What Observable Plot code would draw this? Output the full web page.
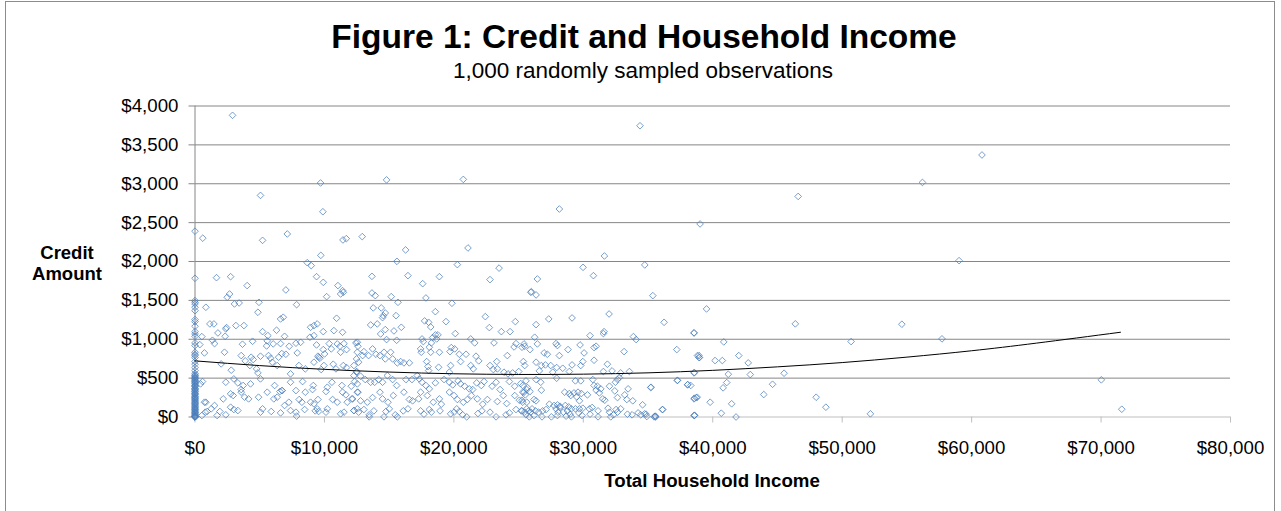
<!DOCTYPE html>
<html><head><meta charset="utf-8">
<script src="https://cdn.jsdelivr.net/npm/d3@7"></script>
<script src="https://cdn.jsdelivr.net/npm/@observablehq/plot@0.6"></script>
<style>
html,body{margin:0;padding:0;background:#fff;overflow:hidden;}
#wrap{position:relative;width:1281px;height:511px;font-family:"Liberation Sans",Arial,sans-serif;color:#000;}
#frame{position:absolute;left:5px;top:1px;width:1270px;height:540px;border:1px solid #8c8c8c;box-sizing:border-box;}
#chart{position:absolute;left:0;top:0;}
.t{position:absolute;white-space:nowrap;transform:translateX(-50%);text-align:center;}
</style></head><body>
<div id="wrap">
  <div id="frame"></div>
  <div id="chart"></div>
  <div class="t" style="left:644px;top:19.5px;font-size:33.5px;line-height:33.5px;font-weight:bold;">Figure 1: Credit and Household Income</div>
  <div class="t" style="left:643px;top:60px;font-size:22.5px;line-height:22.5px;">1,000 randomly sampled observations</div>
  <div class="t" style="left:67px;top:243px;font-size:18.5px;line-height:20.5px;font-weight:bold;">Credit<br>Amount</div>
  <div class="t" style="left:712px;top:472px;font-size:18.7px;line-height:18.7px;font-weight:bold;">Total Household Income</div>
</div>
<script>
// Axis ticks
const xTicks = [0, 10000, 20000, 30000, 40000, 50000, 60000, 70000, 80000];
const yTicks = [0, 500, 1000, 1500, 2000, 2500, 3000, 3500, 4000];

// Observations with zero household income (credit amounts)
const zeroIncomeCredit = [2390, 1784, 1497, 1475, 1454, 1411, 1368, 1253, 1227, 1167, 1098, 1068, 1038, 953, 919, 833, 807, 790, 764, 713, 679, 636, 597, 560, 541, 533, 518, 510, 497, 490, 476, 470, 455, 450, 437, 430, 412, 405, 396, 390, 371, 365, 352, 347, 333, 325, 309, 300, 294, 285, 268, 260, 251, 240, 232, 220, 215, 200, 188, 180, 173, 160, 152, 140, 131, 120, 112, 100, 94, 85, 71, 60, 55, 45, 33, 25, 16, 10, 4, 0, 0, 0];

// [income, credit] pairs, income up to $12,000
const band1 = [[600,2300],[2900,3880],[5060,2850],[5220,2272],[7130,2354],[8670,1985],[8980,1947],[9700,3010],[9720,2079],[9880,2640],[11430,2277],[11690,2294],
[1660,1792],[2750,1805],[4030,1690],[7020,1634],[9390,1805],[9910,1732],[11040,1690],[11400,1625],[11250,1582],[11460,1604],[2490,1540],[2670,1582],[10170,1548],[3050,1454],[3410,1467],[4940,1475],[840,1411],[7850,1445],[4860,1347],[6610,1261],[6820,1283],[10940,1270],[1150,1197],[1460,1197],[2440,1150],[2380,1133],[3160,1176],[3780,1176],[1770,1081],[2330,1038],[5220,1098],[5630,1047],[6300,1116],[6920,1038],[8930,1154],[9190,1176],[9440,1197],[8880,1026],[9190,1047],[9910,1098],[10730,1111],[11400,1090],[530,1034],[1350,987],[1510,944],[370,931],[2280,833],[730,824],[3670,936],[4450,974],[5580,979],[5530,914],[6040,940],[6610,944],[7280,910],[7800,949],[8160,961],[6710,816],[6460,769],[7020,807],[7900,824],[9390,927],[9500,782],[9650,756],[9910,867],[10010,811],[10370,944],[10530,876],[10990,940],[11200,910],[11510,944],[11710,867],[11250,833],[3570,790],[4340,769],[4500,739],[5060,782],[5680,790],[5840,756],[3880,722],[4240,662],[2020,683],[2800,602],[4760,619],[5970,705],[6350,662],[7380,555],[8030,662],[8520,619],[9190,705],[9570,769],[9960,662],[9750,610],[10680,679],[10890,619],[11460,662],[11710,636],[430,426],[580,456],[2380,447],[3000,490],[3310,439],[3720,405],[3570,353],[4290,426],[5060,490],[4860,567],[6150,405],[6710,340],[7380,447],[8310,456],[9080,353],[9140,405],[10220,383],[10580,447],[11350,405],[840,190],[730,190],[2180,233],[2750,298],[2950,276],[3570,319],[3830,255],[4140,233],[4910,255],[5580,319],[6090,233],[6350,255],[6560,328],[6740,340],[7250,190],[7800,340],[8050,225],[8260,190],[8520,319],[8930,190],[9190,169],[9500,225],[10120,328],[10630,225],[10990,190],[11400,319],[11660,285],[11760,190],[530,19],[790,62],[940,71],[1250,105],[1510,148],[1920,71],[2750,126],[3000,96],[3310,83],[5220,105],[5060,62],[5890,71],[6610,53],[6920,148],[7380,83],[7800,62],[8470,96],[7850,11],[9290,79],[9440,105],[9550,71],[10220,105],[10120,62],[11250,41],[11510,62],[2380,28],[1710,19]];

// income $12,000 - $26,000
const band2 = [[12540,961],[12540,833],[12280,662],[12490,585],[12070,396],[12330,456],[12540,426],[12540,319],[12180,233],[12280,83],[12540,105],[12920,2320],
[14800,3050],[20730,3056],[16270,2149],[21090,2174],[15600,2002],[20270,1960],[23490,1915],
[13670,1809],[16450,1818],[18880,1805],[22790,1767],[17590,1715],[13670,1595],[13930,1561],[15160,1548],[15680,1475],[17840,1531],[19850,1463],[25940,1604],[13770,1403],[14390,1403],[14700,1338],[14550,1304],[14490,1278],[15530,1304],[18570,1355],[22430,1291],[13570,1184],[14080,1197],[14700,1124],[14340,1068],[15370,1107],[15940,1154],[17740,1236],[18050,1218],[18210,1158],[19390,1227],[20110,1073],[22740,1150],[23670,1098],[24340,1098],[24750,1227],[18570,1056],[18360,1021],[18260,953],[18770,1056],[18670,1004],[17540,1004],[17640,970],[14800,996],[15580,987],[21300,1004],[21610,953],[12430,953],[12590,910],[13050,841],[12950,790],[12640,705],[12480,747],[13410,790],[13720,876],[13980,807],[14290,790],[14600,833],[14700,747],[15110,833],[15270,747],[15630,696],[15890,713],[16140,696],[16560,696],[17430,876],[17480,833],[18100,897],[18210,833],[18880,833],[19700,841],[19800,893],[20060,876],[20420,807],[20940,807],[21710,782],[21920,722],[23100,953],[23310,713],[24800,944],[24650,901],[25420,940],[25470,910],[24130,790],[25370,713],[25470,662],[17900,713],[18000,649],[18050,597],[18820,640],[19750,662],[19650,576],[20520,713],[21300,662],[21500,619],[22790,662],[23050,610],[23360,619],[23870,576],[24180,555],[24540,567],[25010,585],[12280,533],[12480,576],[12790,525],[13150,482],[13570,447],[13880,447],[14190,482],[14490,447],[14860,533],[15270,482],[15580,405],[16300,482],[16760,482],[17170,533],[17330,490],[17540,447],[18100,362],[17840,405],[18570,439],[19240,482],[19650,447],[19910,413],[20320,465],[20520,426],[20830,396],[21190,362],[21450,353],[21760,439],[22120,405],[22330,456],[22950,396],[23260,447],[23570,353],[24290,456],[24700,396],[25160,430],[25630,353],[25420,319],[12120,233],[12590,319],[12790,208],[13310,190],[13720,250],[14290,319],[14490,233],[14910,190],[15320,276],[16140,319],[16560,225],[16810,208],[17280,233],[17430,319],[17950,276],[18410,190],[18880,233],[19030,165],[19650,319],[20010,276],[20270,225],[20730,190],[21040,225],[21350,276],[21810,233],[22230,165],[22590,225],[23360,199],[23820,276],[24080,173],[24700,276],[25060,216],[25320,190],[12280,83],[12640,62],[13050,96],[13460,28],[13820,79],[14750,71],[15010,105],[15470,28],[15630,2],[16090,79],[16450,105],[17430,79],[17690,36],[18100,96],[18260,62],[18930,79],[19750,41],[20010,62],[20220,105],[20420,71],[20680,28],[20990,2],[21860,45],[22170,79],[22790,62],[23260,2],[24030,28],[24290,53],[24800,96],[25210,79],[25630,105],[25940,62],[13460,2],[14600,2]];

// income $25,000 - $39,000
const band3 = [[34380,3746],[28150,2675],[31630,2071],[29980,1925],[34750,1956],
[30780,1818],[26450,1775],[25990,1612],[26350,1570],[35370,1561],[27330,1261],[29130,1274],[31990,1325],[26350,1188],[36240,1218],[30520,1047],[31600,1098],[31550,1073],[26240,1026],[33870,1034],[34080,996],[38560,1081],[25260,897],[27890,944],[28000,919],[26450,940],[29750,927],[30830,893],[30990,910],[25880,867],[26970,824],[27220,807],[28150,790],[28820,867],[30060,824],[33150,841],[37220,867],[38820,790],[38970,764],[26350,705],[26760,662],[27070,670],[27480,662],[27940,636],[28410,627],[29130,670],[29960,713],[29800,662],[30830,730],[31860,679],[26600,593],[27640,576],[28920,585],[31550,585],[32220,593],[32890,567],[33560,585],[38560,567],[25570,465],[25320,405],[26350,482],[26710,447],[27940,499],[29390,465],[29800,465],[30730,482],[30830,405],[31090,396],[31350,362],[32020,396],[32480,447],[32640,482],[32790,507],[33460,362],[35210,379],[37270,473],[38050,413],[25680,379],[25880,328],[25320,319],[25520,285],[26760,345],[28560,319],[28920,302],[29280,310],[29590,319],[29850,302],[29030,276],[29490,259],[29700,208],[30320,285],[30990,345],[31240,310],[31500,233],[31660,216],[32430,336],[32640,250],[33200,285],[33360,225],[33820,208],[38560,233],[38720,250],[25260,216],[25630,190],[26190,225],[26350,208],[27380,165],[28000,156],[28200,122],[28610,148],[28870,131],[29080,105],[29700,105],[29960,113],[30470,105],[30680,122],[31140,79],[31910,113],[32640,62],[32890,105],[34230,53],[34440,28],[34850,36],[35470,2],[35570,11],[36140,96],[38560,19],[25260,79],[25470,62],[25780,79],[26040,105],[26300,79],[26550,62],[26860,79],[27120,96],[27740,148],[27890,105],[28050,62],[28200,139],[28460,62],[28770,79],[28980,36],[29390,105],[29650,53],[32020,62],[32330,28],[32530,96],[33410,36],[33770,28],[25570,28],[25830,2],[26190,19],[26810,2],[27530,2],[28000,19],[28670,11],[29080,2],[29900,19],[30520,36],[31140,2],[32120,2]];

// income above $34,000
const band4 = [[60800,3370],[56200,3017],[46600,2837],[39020,2483],[59030,2011],[39520,1390],[46380,1198],[54610,1193],[38550,1082],[40850,966],[50690,970],[57710,1005],[38940,790],[38940,765],[40180,726],[40740,726],[42010,790],[42740,696],[38580,572],[41200,550],[42900,546],[45510,563],[41080,443],[40800,375],[44620,421],[70020,478],[38580,242],[38800,254],[39800,190],[41460,170],[43940,289],[47990,254],[48740,126],[71600,100],[40660,49],[41800,0],[38580,19],[38600,23],[52180,41],[38300,405],[34580,157],[34740,41],[34900,6],[35540,10],[35600,0],[36100,96],[35230,383],[37270,469],[38070,418]];

// Polynomial trend line
const trendIncome = [0, 5000, 10000, 15000, 20000, 25000, 30000, 35000, 40000, 45000, 50000, 55000, 60000, 65000, 71500];
const trendCredit = [722, 661, 613, 578, 556, 547, 551, 568, 600, 645, 700, 770, 852, 950, 1090];

const points = [
  ...zeroIncomeCredit.map(c => ({income: 0, credit: c})),
  ...[...band1, ...band2, ...band3, ...band4].map(([i, c]) => ({income: i, credit: c}))
];
const trend = trendIncome.map((x, k) => ({income: x, credit: trendCredit[k]}));

const fmt = d3.format("$,");
const chart = Plot.plot({
  width: 1281,
  height: 511,
  marginLeft: 194.5,
  marginRight: 51,
  marginTop: 105.5,
  marginBottom: 94.5,
  style: {fontFamily: "'Liberation Sans', Arial, sans-serif", fontSize: "18.7px", color: "#000", background: "transparent", overflow: "visible"},
  x: {domain: [0, 80000]},
  y: {domain: [0, 4000]},
  marks: [
    Plot.gridY(yTicks.filter(d => d > 0), {stroke: "#868686", strokeOpacity: 1}),
    Plot.ruleY([0], {stroke: "#bfbfbf"}),
    Plot.ruleX([0], {stroke: "#868686"}),
    Plot.axisY(yTicks, {tickSize: 6, tickPadding: 10.5, tickFormat: fmt, stroke: "#868686", fill: "#000", label: null}),
    Plot.axisX(xTicks, {tickSize: 6, tickPadding: 18, tickFormat: fmt, stroke: "#bfbfbf", fill: "#000", label: null}),
    Plot.dot(points, {x: "income", y: "credit", symbol: "diamond2", r: 3, stroke: "#4a7ebb", strokeWidth: 0.75, fill: "none"}),
    Plot.line(trend, {x: "income", y: "credit", stroke: "#000", strokeWidth: 1, curve: "natural"})
  ]
});
document.getElementById("chart").appendChild(chart);
</script>
</body></html>
